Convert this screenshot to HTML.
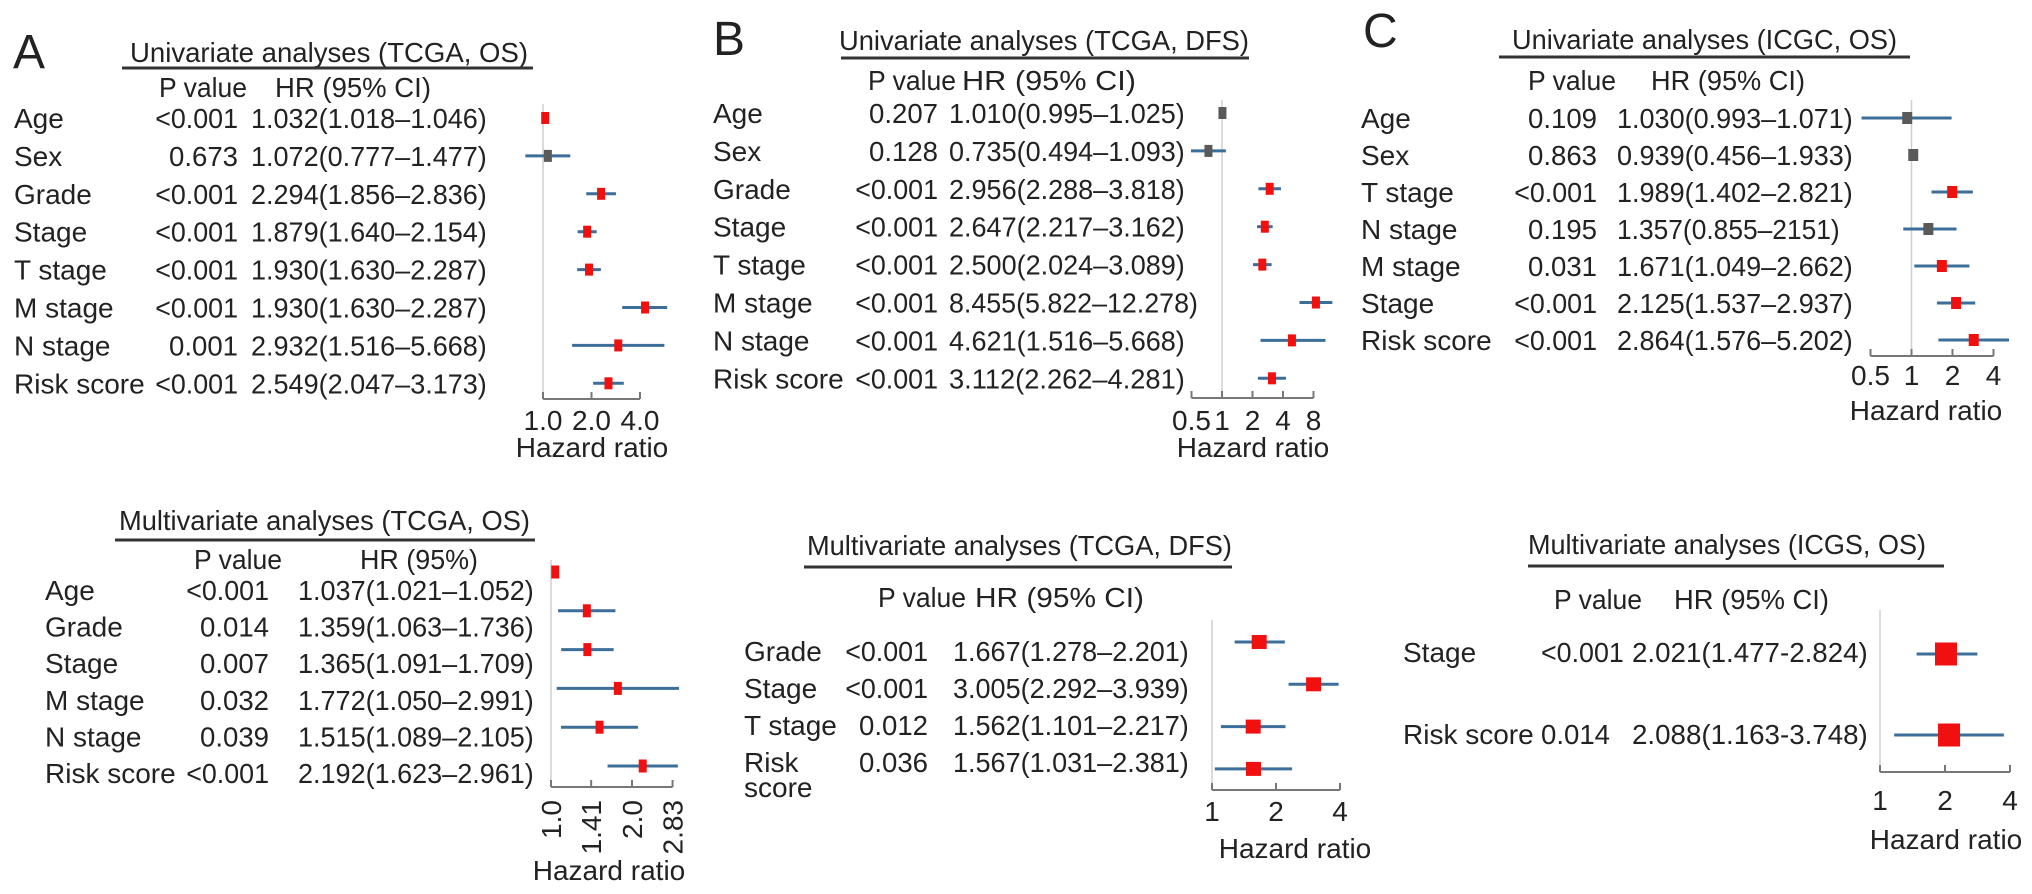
<!DOCTYPE html>
<html><head><meta charset="utf-8">
<style>
html,body{margin:0;padding:0;background:#fff;}
svg{display:block;font-family:"Liberation Sans",Arial,sans-serif;}
</style></head>
<body>
<svg id="fig" width="2032" height="894" viewBox="0 0 2032 894" xmlns="http://www.w3.org/2000/svg"></svg>
<script>
// ---- Panel A univariate (TCGA, OS)
const a1Labels = ["Age","Sex","Grade","Stage","T stage","M stage","N stage","Risk score"];
const a1P = ["<0.001","0.673","<0.001","<0.001","<0.001","<0.001","0.001","<0.001"];
const a1HrText = ["1.032(1.018–1.046)","1.072(0.777–1.477)","2.294(1.856–2.836)","1.879(1.640–2.154)","1.930(1.630–2.287)","1.930(1.630–2.287)","2.932(1.516–5.668)","2.549(2.047–3.173)"];
const a1Hr = [1.032,1.072,2.294,1.879,1.930,4.3,2.932,2.549];
const a1Lo = [1.018,0.777,1.856,1.640,1.630,3.1,1.516,2.047];
const a1Hi = [1.046,1.477,2.836,2.154,2.287,5.9,5.668,3.173];
const a1Sig = [true,false,true,true,true,true,true,true];
const a1Ticks = [1,2,4];
const a1TickLabels = ["1.0","2.0","4.0"];
// ---- Panel B univariate (TCGA, DFS)
const b1Labels = ["Age","Sex","Grade","Stage","T stage","M stage","N stage","Risk score"];
const b1P = ["0.207","0.128","<0.001","<0.001","<0.001","<0.001","<0.001","<0.001"];
const b1HrText = ["1.010(0.995–1.025)","0.735(0.494–1.093)","2.956(2.288–3.818)","2.647(2.217–3.162)","2.500(2.024–3.089)","8.455(5.822–12.278)","4.621(1.516–5.668)","3.112(2.262–4.281)"];
const b1Hr = [1.010,0.735,2.956,2.647,2.500,8.455,4.9,3.112];
const b1Lo = [0.995,0.494,2.288,2.217,2.024,5.822,2.4,2.262];
const b1Hi = [1.025,1.093,3.818,3.162,3.089,12.278,10.5,4.281];
const b1Sig = [false,false,true,true,true,true,true,true];
const b1Ticks = [0.5,1,2,4,8];
const b1TickLabels = ["0.5","1","2","4","8"];
// ---- Panel C univariate (ICGC, OS)
const c1Labels = ["Age","Sex","T stage","N stage","M stage","Stage","Risk score"];
const c1P = ["0.109","0.863","<0.001","0.195","0.031","<0.001","<0.001"];
const c1HrText = ["1.030(0.993–1.071)","0.939(0.456–1.933)","1.989(1.402–2.821)","1.357(0.855–2151)","1.671(1.049–2.662)","2.125(1.537–2.937)","2.864(1.576–5.202)"];
const c1Hr = [0.93,1.03,1.989,1.33,1.671,2.125,2.864];
const c1Lo = [0.43,1.0,1.402,0.87,1.049,1.537,1.576];
const c1Hi = [1.97,1.06,2.821,2.14,2.662,2.937,5.202];
const c1Sig = [false,false,true,false,true,true,true];
const c1Ticks = [0.5,1,2,4];
const c1TickLabels = ["0.5","1","2","4"];
// ---- Panel A multivariate (TCGA, OS)
const a2Labels = ["Age","Grade","Stage","M stage","N stage","Risk score"];
const a2P = ["<0.001","0.014","0.007","0.032","0.039","<0.001"];
const a2HrText = ["1.037(1.021–1.052)","1.359(1.063–1.736)","1.365(1.091–1.709)","1.772(1.050–2.991)","1.515(1.089–2.105)","2.192(1.623–2.961)"];
const a2Hr = [1.037,1.359,1.365,1.772,1.515,2.192];
const a2Lo = [1.021,1.063,1.091,1.050,1.089,1.623];
const a2Hi = [1.052,1.736,1.709,2.991,2.105,2.961];
const a2Sig = [true,true,true,true,true,true];
const a2Ticks = [1,1.41,2,2.83];
const a2TickLabels = ["1.0","1.41","2.0","2.83"];
// ---- Panel B multivariate (TCGA, DFS)
const b2Labels = ["Grade","Stage","T stage","Risk"];
const b2P = ["<0.001","<0.001","0.012","0.036"];
const b2HrText = ["1.667(1.278–2.201)","3.005(2.292–3.939)","1.562(1.101–2.217)","1.567(1.031–2.381)"];
const b2Hr = [1.667,3.005,1.562,1.567];
const b2Lo = [1.278,2.292,1.101,1.031];
const b2Hi = [2.201,3.939,2.217,2.381];
const b2Sig = [true,true,true,true];
const b2Ticks = [1,2,4];
const b2TickLabels = ["1","2","4"];
// ---- Panel C multivariate (ICGS, OS)
const c2Labels = ["Stage","Risk score"];
const c2P = ["<0.001","0.014"];
const c2HrText = ["2.021(1.477-2.824)","2.088(1.163-3.748)"];
const c2Hr = [2.021,2.088];
const c2Lo = [1.477,1.163];
const c2Hi = [2.824,3.748];
const c2Sig = [true,true];
const c2Ticks = [1,2,4];
const c2TickLabels = ["1","2","4"];

const NS = "http://www.w3.org/2000/svg";
const svg = document.getElementById("fig");
const TXT = "#222";

function mk(tag, attrs, parent) {
  const e = document.createElementNS(NS, tag);
  for (const k in attrs) e.setAttribute(k, attrs[k]);
  (parent || svg).appendChild(e);
  return e;
}
function txt(s, x, y, size, parent, anchor, len) {
  const e = mk("text", {x: x, y: y, "font-size": size, fill: TXT}, parent);
  if (anchor) e.setAttribute("text-anchor", anchor);
  if (len) { e.setAttribute("textLength", len); e.setAttribute("lengthAdjust", "spacingAndGlyphs"); }
  e.textContent = s;
  return e;
}

function panel(id, L, labels, pv, hrText, hr, lo, hi, sig, ticks, tickLabels) {
  const g = mk("g", {});
  
  
  const sx = v => L.x1 + L.per * Math.log2(v);
  if (L.letter) {
    const t = txt(L.letter, L.letterX, L.letterY, 48, g);
    
    
  }
  const tt = txt(L.title, L.titleX, L.titleY, 28, g, null, L.titleW);
  
  
  const ul = mk("line", {x1: L.ulX1, x2: L.ulX2, y1: L.ulY, y2: L.ulY, stroke: "#333", "stroke-width": 3}, g);
  
  
  const ph = txt("P value", L.pHeadX, L.headY, 28, g, null, 88);
  
  
  const hh = txt(L.hrHead, L.hrHeadX, L.headY, 28, g, null, L.hrHeadW);
  
  
  // reference line
  const rl = mk("line", {x1: sx(1), x2: sx(1), y1: L.refTop, y2: L.axisY, stroke: "#cfcfcf", "stroke-width": 1.5}, g);
  
  
  for (let i = 0; i < labels.length; i++) {
    const ly = L.labY0 + i * L.labDy + 10;
    const lt = txt(labels[i], L.labelX, ly, 28, g);
    
    
    if (L.extra && L.extra[i]) {
      const et = txt(L.extra[i], L.labelX, ly + 25, 28, g);
      
      
    }
    const pt = txt(pv[i], L.pLeft ? L.pX : L.pRight, ly, 28, g, L.pLeft ? null : "end", 13.8 * pv[i].length);
    
    
    const ht = txt(hrText[i], L.hrX, ly, 28, g, null, 13.1 * hrText[i].length);
    
    
    const my = L.mkY0 + i * L.mkDy;
    const ci = mk("line", {x1: sx(lo[i]), x2: sx(hi[i]), y1: my, y2: my, stroke: "#3b6e99", "stroke-width": 3}, g);
    
    
    const m = mk("rect", {x: sx(hr[i]) - L.mw / 2, y: my - L.mh / 2, width: L.mw, height: L.mh, fill: sig[i] ? "#f01010" : "#5a5a5a"}, g);
    
    
  }
  // axis
  const ax = mk("line", {x1: sx(ticks[0]), x2: sx(ticks[ticks.length - 1]), y1: L.axisY, y2: L.axisY, stroke: "#777", "stroke-width": 2}, g);
  
  
  for (let j = 0; j < ticks.length; j++) {
    const tx = sx(ticks[j]);
    const tk = mk("line", {x1: tx, x2: tx, y1: L.axisY - 7, y2: L.axisY, stroke: "#777", "stroke-width": 2}, g);
    
    
    let tl;
    if (L.rotate) {
      tl = txt(tickLabels[j], 0, 0, 28, g, "end");
      tl.setAttribute("transform", "translate(" + (tx + 10) + "," + (L.axisY + 13) + ") rotate(-90)");
    } else {
      tl = txt(tickLabels[j], tx, L.tickY, 28, g, "middle");
    }
    
    
  }
  const xl = txt("Hazard ratio", L.xlabX, L.xlabY, 28, g, "middle");
  
  
}

panel("a-univariate", {letter:"A", letterX:13, letterY:68, title:"Univariate analyses (TCGA, OS)", titleX:130, titleY:62, titleW:398,
  ulX1:122, ulX2:533, ulY:68, pHeadX:159, hrHead:"HR (95% CI)", hrHeadX:275, hrHeadW:156, headY:97,
  labY0:118, labDy:37.9, mkY0:118, mkDy:37.9, labelX:14, pRight:238, hrX:251,
  x1:543, per:48.5, axisY:399, tickY:430, refTop:104, xlabX:592, xlabY:457, mw:8, mh:12},
  a1Labels, a1P, a1HrText, a1Hr, a1Lo, a1Hi, a1Sig, a1Ticks, a1TickLabels);

panel("b-univariate", {letter:"B", letterX:713, letterY:55, title:"Univariate analyses (TCGA, DFS)", titleX:839, titleY:50, titleW:410,
  ulX1:841, ulX2:1249, ulY:58, pHeadX:868, hrHead:"HR (95% CI)", hrHeadX:962, hrHeadW:174, headY:90,
  labY0:113, labDy:37.9, mkY0:113, mkDy:37.9, labelX:713, pRight:938, hrX:949,
  x1:1222, per:30.5, axisY:398, tickY:430, refTop:100, xlabX:1253, xlabY:457, mw:8, mh:12},
  b1Labels, b1P, b1HrText, b1Hr, b1Lo, b1Hi, b1Sig, b1Ticks, b1TickLabels);

panel("c-univariate", {letter:"C", letterX:1363, letterY:47, title:"Univariate analyses (ICGC, OS)", titleX:1512, titleY:49, titleW:385,
  ulX1:1499, ulX2:1910, ulY:57, pHeadX:1528, hrHead:"HR (95% CI)", hrHeadX:1651, hrHeadW:154, headY:90,
  labY0:118, labDy:37, mkY0:118, mkDy:37, labelX:1361, pRight:1597, hrX:1617,
  x1:1911.5, per:41, axisY:356, tickY:385, refTop:100, xlabX:1926, xlabY:420, mw:10, mh:12},
  c1Labels, c1P, c1HrText, c1Hr, c1Lo, c1Hi, c1Sig, c1Ticks, c1TickLabels);

panel("a-multivariate", {title:"Multivariate analyses (TCGA, OS)", titleX:119, titleY:530, titleW:411,
  ulX1:115, ulX2:535, ulY:540, pHeadX:194, hrHead:"HR (95%)", hrHeadX:360, hrHeadW:118, headY:569,
  labY0:590, labDy:36.6, mkY0:572, mkDy:38.8, labelX:45, pRight:269, hrX:298,
  x1:551, per:81, axisY:787, rotate:true, refTop:560, xlabX:609, xlabY:880, mw:8, mh:13},
  a2Labels, a2P, a2HrText, a2Hr, a2Lo, a2Hi, a2Sig, a2Ticks, a2TickLabels);

panel("b-multivariate", {title:"Multivariate analyses (TCGA, DFS)", titleX:807, titleY:555, titleW:425,
  ulX1:804, ulX2:1232, ulY:567, pHeadX:878, hrHead:"HR (95% CI)", hrHeadX:975, hrHeadW:169, headY:607,
  labY0:651, labDy:37, mkY0:642, mkDy:42.3, labelX:744, pRight:928, hrX:953, extra:[null,null,null,"score"],
  x1:1212, per:64, axisY:790, tickY:821, refTop:620, xlabX:1295, xlabY:858, mw:15, mh:14},
  b2Labels, b2P, b2HrText, b2Hr, b2Lo, b2Hi, b2Sig, b2Ticks, b2TickLabels);

panel("c-multivariate", {title:"Multivariate analyses (ICGS, OS)", titleX:1528, titleY:554, titleW:398,
  ulX1:1528, ulX2:1944, ulY:566, pHeadX:1554, hrHead:"HR (95% CI)", hrHeadX:1674, hrHeadW:155, headY:609,
  labY0:652, labDy:82, mkY0:654, mkDy:81, labelX:1403, pLeft:true, pX:1541, hrX:1632,
  x1:1880, per:65, axisY:772, tickY:810, refTop:610, xlabX:1946, xlabY:849, mw:22, mh:23},
  c2Labels, c2P, c2HrText, c2Hr, c2Lo, c2Hi, c2Sig, c2Ticks, c2TickLabels);
</script>
</body></html>
